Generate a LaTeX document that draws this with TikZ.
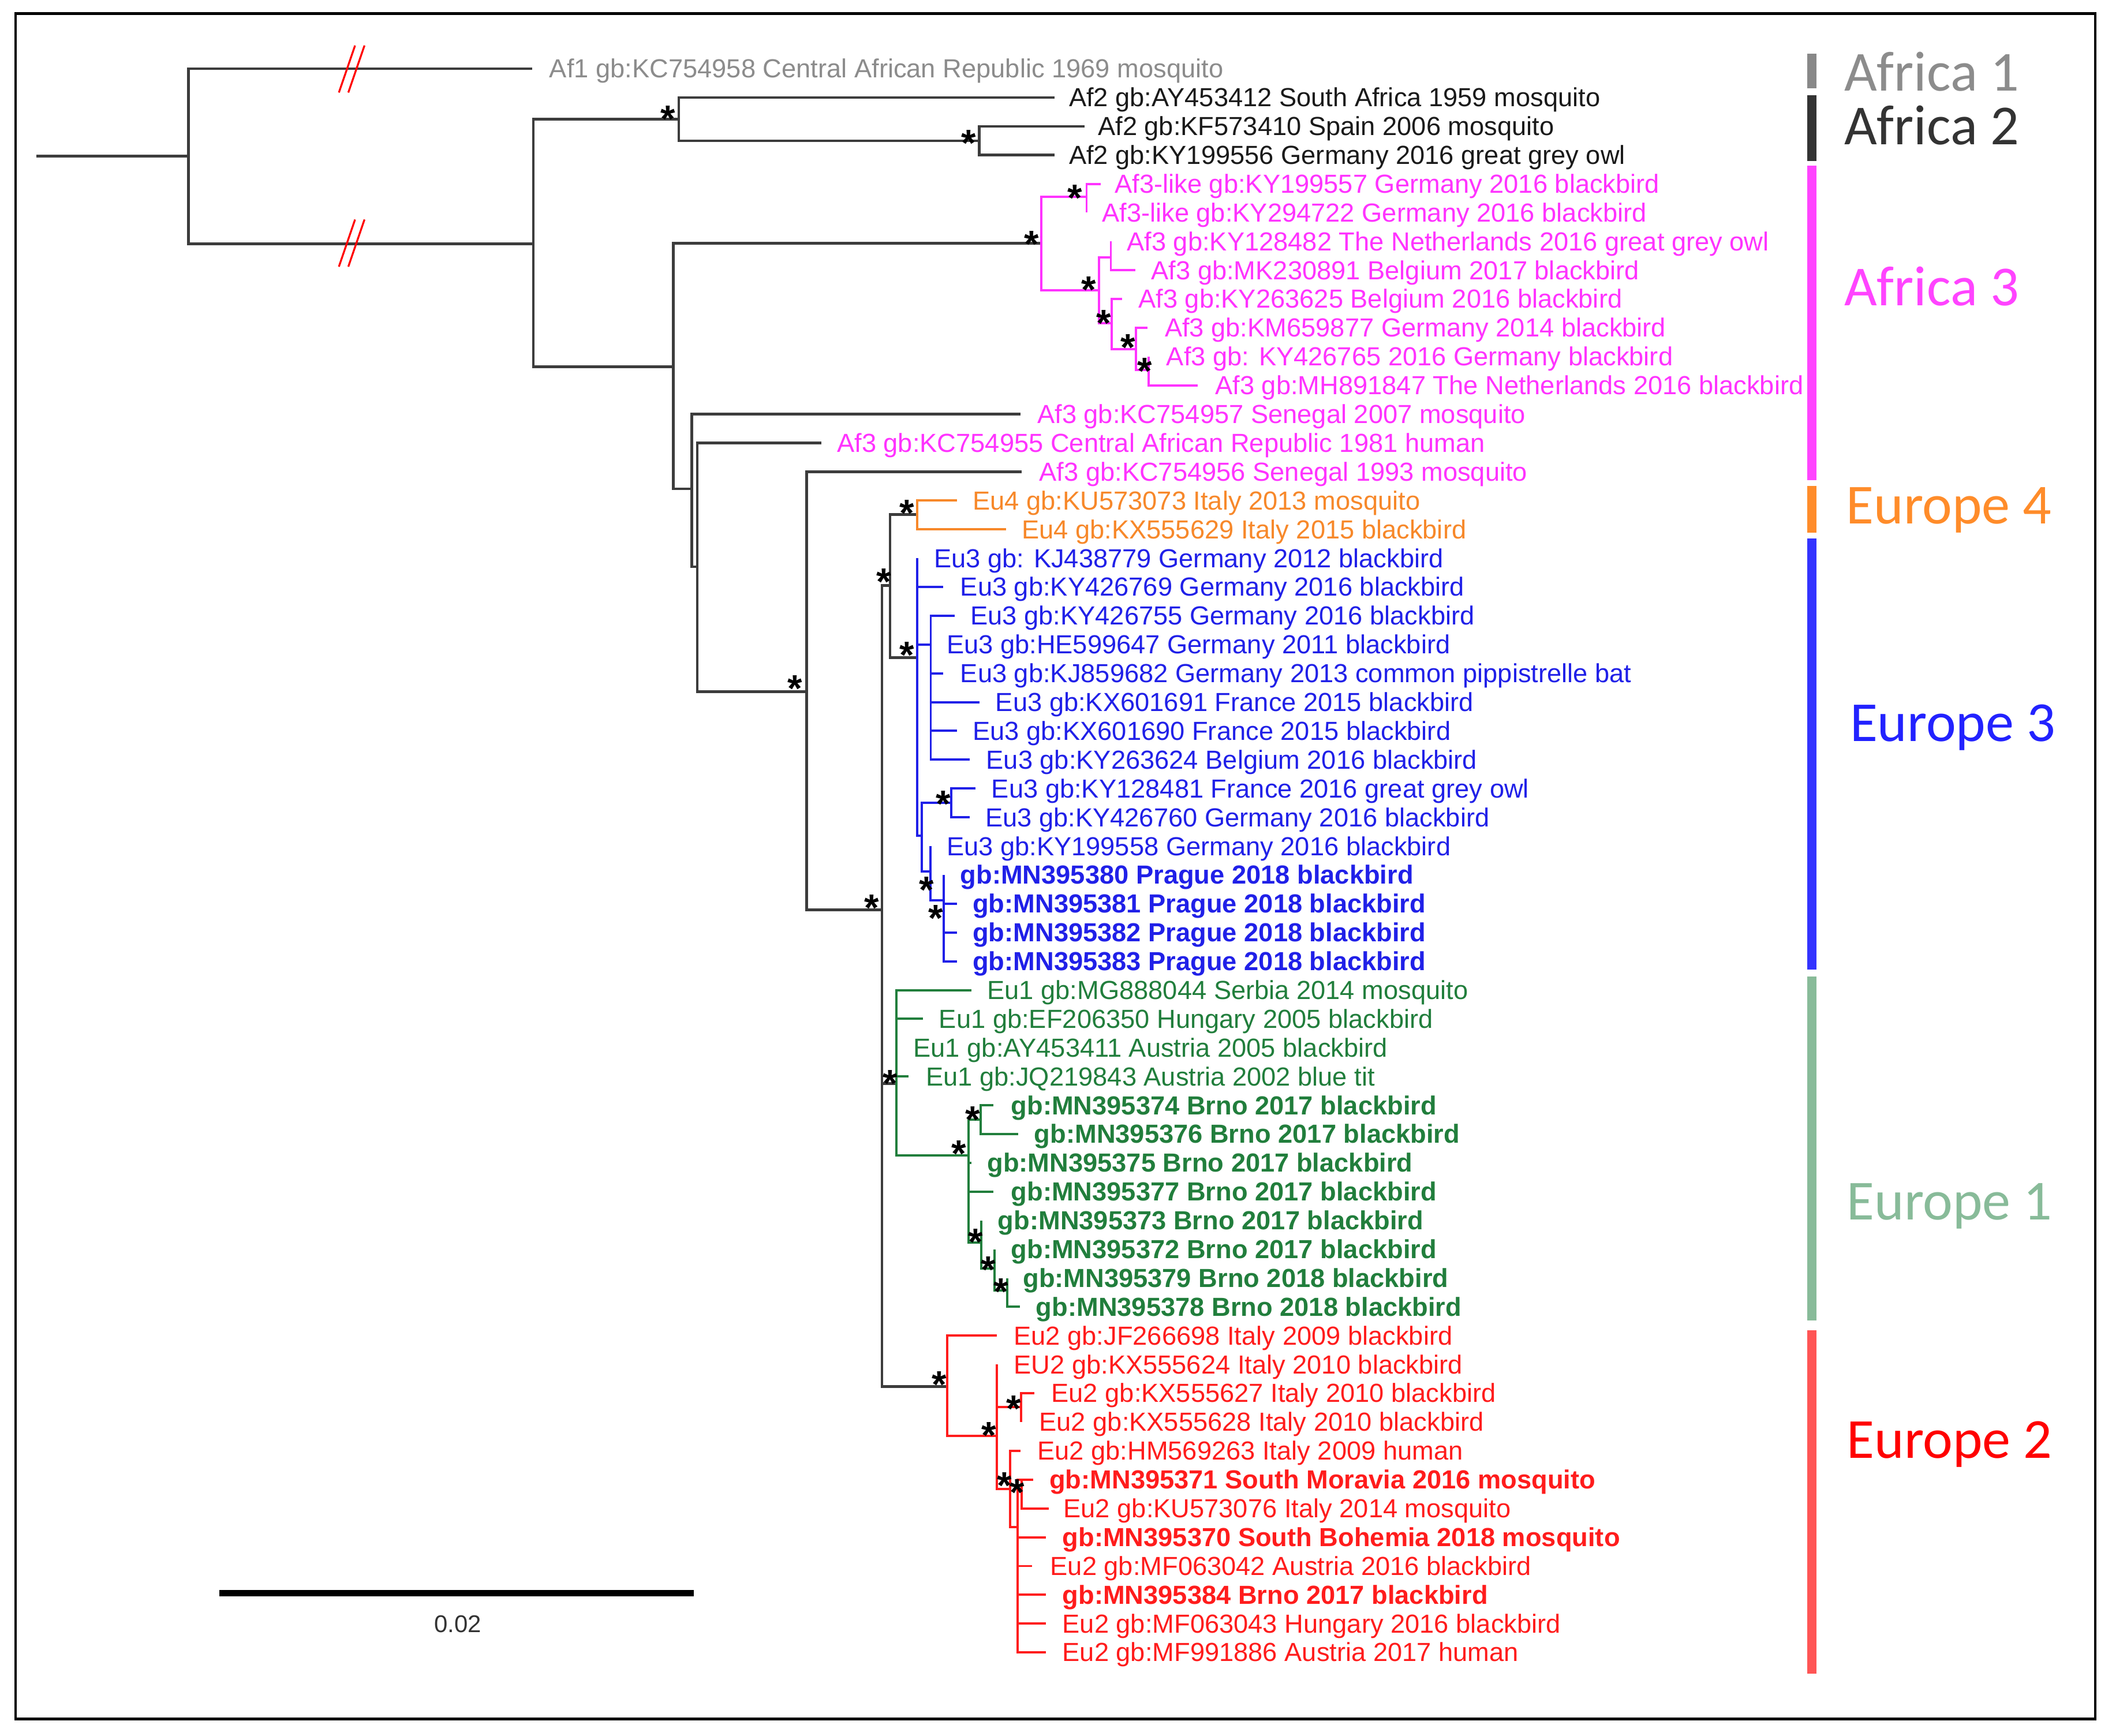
\documentclass[tikz,border=0pt]{standalone}
\usepackage{fontspec}
\setmainfont{Liberation Sans}
\newfontfamily\cladefont{Carlito}
\definecolor{treeline}{HTML}{3C3C3C}
\definecolor{cgrey}{HTML}{8C8C8C}
\definecolor{caf2}{HTML}{1A1A1A}
\definecolor{cmag}{HTML}{FF33FF}
\definecolor{corange}{HTML}{F7882A}
\definecolor{cblue}{HTML}{2020E8}
\definecolor{cgreen}{HTML}{217E3C}
\definecolor{cred}{HTML}{FF1C1C}
\definecolor{barAa}{HTML}{888888}
\definecolor{barAb}{HTML}{333333}
\definecolor{barAc}{HTML}{FF44FF}
\definecolor{barEd}{HTML}{FF8C2A}
\definecolor{barEc}{HTML}{3333FF}
\definecolor{barEa}{HTML}{88BB99}
\definecolor{barEb}{HTML}{FF5555}
\definecolor{labEc}{HTML}{2222FF}
\definecolor{labEb}{HTML}{FF0000}
\newcommand\mkleaf[6]{%
  \coordinate (#1) at (#2,#4);
  \node[lab,#5] (#1L) at (#3,#4+6.8) {#6};}
\newcommand\mkstar[3]{\node[bstar] (#1) at (#2,#3+15.8) {*};}
\begin{document}
\begin{tikzpicture}[x=1pt,y=-1pt,
  bk/.style={draw=treeline, line width=2pt},
  mg/.style={draw=cmag, line width=1.7pt},
  og/.style={draw=corange, line width=1.7pt},
  bl/.style={draw=cblue, line width=1.7pt},
  gr/.style={draw=cgreen, line width=1.7pt},
  rd/.style={draw=cred, line width=1.7pt},
  brk/.style={draw=red, line width=1.4pt},
  lab/.style={anchor=base west, inner sep=0pt, font=\fontsize{19.4}{19.4}\selectfont},
  bstar/.style={anchor=base, inner sep=0pt, font=\bfseries\fontsize{28}{28}\selectfont},
  clade/.style={anchor=base west, inner sep=0pt, font=\cladefont\fontsize{42}{42}\selectfont}
]
\useasboundingbox (0,0) rectangle (1568,1288.6);
\fill[white] (0,0) rectangle (1568,1288.6);
\draw[line width=2pt] (11.5,10) rectangle (1555.5,1276.5);

% ---------------- leaves ----------------
\mkleaf{af1}{395}{407.7}{51.0}{text=cgrey}{Af1 gb:KC754958 Central African Republic 1969 mosquito}
\mkleaf{t1}{783}{793.5}{72.4}{text=caf2}{Af2 gb:AY453412 South Africa 1959 mosquito}
\mkleaf{t2}{805}{815}{93.8}{text=caf2}{Af2 gb:KF573410 Spain 2006 mosquito}
\mkleaf{t3}{783}{793.5}{115.1}{text=caf2}{Af2 gb:KY199556 Germany 2016 great grey owl}
\mkleaf{t4}{817}{827.5}{136.5}{text=cmag}{Af3-like gb:KY199557 Germany 2016 blackbird}
\mkleaf{t5}{806.7}{818}{157.9}{text=cmag}{Af3-like gb:KY294722 Germany 2016 blackbird}
\mkleaf{t6}{824.7}{836.5}{179.3}{text=cmag}{Af3 gb:KY128482 The Netherlands 2016 great grey owl}
\mkleaf{t7}{843}{854.5}{200.7}{text=cmag}{Af3 gb:MK230891 Belgium 2017 blackbird}
\mkleaf{t8}{833.1}{845}{222.0}{text=cmag}{Af3 gb:KY263625 Belgium 2016 blackbird}
\mkleaf{t9}{851.7}{864.6}{243.4}{text=cmag}{Af3 gb:KM659877 Germany 2014 blackbird}
\mkleaf{t10}{852.8}{865.8}{264.8}{text=cmag}{Af3 gb: KY426765 2016 Germany blackbird}
\mkleaf{t11}{889.4}{902}{286.2}{text=cmag}{Af3 gb:MH891847 The Netherlands 2016 blackbird}
\mkleaf{t12}{757.8}{770}{307.6}{text=cmag}{Af3 gb:KC754957 Senegal 2007 mosquito}
\mkleaf{t13}{609.7}{621.3}{328.9}{text=cmag}{Af3 gb:KC754955 Central African Republic 1981 human}
\mkleaf{t14}{758.4}{771.4}{350.3}{text=cmag}{Af3 gb:KC754956 Senegal 1993 mosquito}
\mkleaf{t15}{710.5}{722}{371.7}{text=corange}{Eu4 gb:KU573073 Italy 2013 mosquito}
\mkleaf{t16}{746.8}{758.4}{393.1}{text=corange}{Eu4 gb:KX555629 Italy 2015 blackbird}
\mkleaf{t17}{680.8}{693.3}{414.5}{text=cblue}{Eu3 gb: KJ438779 Germany 2012 blackbird}
\mkleaf{t18}{700.3}{712.8}{435.8}{text=cblue}{Eu3 gb:KY426769 Germany 2016 blackbird}
\mkleaf{t19}{708.7}{720.3}{457.2}{text=cblue}{Eu3 gb:KY426755 Germany 2016 blackbird}
\mkleaf{t20}{691}{702.6}{478.6}{text=cblue}{Eu3 gb:HE599647 Germany 2011 blackbird}
\mkleaf{t21}{700.3}{712.8}{500.0}{text=cblue}{Eu3 gb:KJ859682 Germany 2013 common pippistrelle bat}
\mkleaf{t22}{727.3}{739}{521.4}{text=cblue}{Eu3 gb:KX601691 France 2015 blackbird}
\mkleaf{t23}{710.3}{722}{542.7}{text=cblue}{Eu3 gb:KX601690 France 2015 blackbird}
\mkleaf{t24}{719.8}{732}{564.1}{text=cblue}{Eu3 gb:KY263624 Belgium 2016 blackbird}
\mkleaf{t25}{724.4}{736}{585.5}{text=cblue}{Eu3 gb:KY128481 France 2016 great grey owl}
\mkleaf{t26}{719.8}{731.4}{606.9}{text=cblue}{Eu3 gb:KY426760 Germany 2016 blackbird}
\mkleaf{t27}{690.7}{702.6}{628.3}{text=cblue}{Eu3 gb:KY199558 Germany 2016 blackbird}
\mkleaf{t28}{700.7}{712.8}{649.6}{text=cblue}{\bfseries gb:MN395380 Prague 2018 blackbird}
\mkleaf{t29}{710.5}{722}{671.0}{text=cblue}{\bfseries gb:MN395381 Prague 2018 blackbird}
\mkleaf{t30}{710.5}{722}{692.4}{text=cblue}{\bfseries gb:MN395382 Prague 2018 blackbird}
\mkleaf{t31}{710.5}{722}{713.8}{text=cblue}{\bfseries gb:MN395383 Prague 2018 blackbird}
\mkleaf{t32}{721.2}{732.8}{735.2}{text=cgreen}{Eu1 gb:MG888044 Serbia 2014 mosquito}
\mkleaf{t33}{685.4}{697}{756.5}{text=cgreen}{Eu1 gb:EF206350 Hungary 2005 blackbird}
\mkleaf{t34}{665.5}{678}{777.9}{text=cgreen}{Eu1 gb:AY453411 Austria 2005 blackbird}
\mkleaf{t35}{674.7}{687.3}{799.3}{text=cgreen}{Eu1 gb:JQ219843 Austria 2002 blue tit}
\mkleaf{t36}{737.5}{750.5}{820.7}{text=cgreen}{\bfseries gb:MN395374 Brno 2017 blackbird}
\mkleaf{t37}{756}{767.7}{842.1}{text=cgreen}{\bfseries gb:MN395376 Brno 2017 blackbird}
\mkleaf{t38}{721}{732.8}{863.4}{text=cgreen}{\bfseries gb:MN395375 Brno 2017 blackbird}
\mkleaf{t39}{737.5}{750.5}{884.8}{text=cgreen}{\bfseries gb:MN395377 Brno 2017 blackbird}
\mkleaf{t40}{728.5}{740.7}{906.2}{text=cgreen}{\bfseries gb:MN395373 Brno 2017 blackbird}
\mkleaf{t41}{738.4}{750.5}{927.6}{text=cgreen}{\bfseries gb:MN395372 Brno 2017 blackbird}
\mkleaf{t42}{747.7}{759.3}{949.0}{text=cgreen}{\bfseries gb:MN395379 Brno 2018 blackbird}
\mkleaf{t43}{757}{769}{970.3}{text=cgreen}{\bfseries gb:MN395378 Brno 2018 blackbird}
\mkleaf{t44}{740.2}{752.5}{991.7}{text=cred}{Eu2 gb:JF266698 Italy 2009 blackbird}
\mkleaf{t45}{740}{752.5}{1013.1}{text=cred}{EU2 gb:KX555624 Italy 2010 blackbird}
\mkleaf{t46}{768}{780.4}{1034.5}{text=cred}{Eu2 gb:KX555627 Italy 2010 blackbird}
\mkleaf{t47}{757.9}{771.4}{1055.9}{text=cred}{Eu2 gb:KX555628 Italy 2010 blackbird}
\mkleaf{t48}{757.8}{770}{1077.2}{text=cred}{Eu2 gb:HM569263 Italy 2009 human}
\mkleaf{t49}{767}{779}{1098.6}{text=cred}{\bfseries gb:MN395371 South Moravia 2016 mosquito}
\mkleaf{t50}{778.5}{789.4}{1120.0}{text=cred}{Eu2 gb:KU573076 Italy 2014 mosquito}
\mkleaf{t51}{776.3}{788.6}{1141.4}{text=cred}{\bfseries gb:MN395370 South Bohemia 2018 mosquito}
\mkleaf{t52}{766}{779.6}{1162.8}{text=cred}{Eu2 gb:MF063042 Austria 2016 blackbird}
\mkleaf{t53}{776.3}{788.6}{1184.1}{text=cred}{\bfseries gb:MN395384 Brno 2017 blackbird}
\mkleaf{t54}{776.3}{788.6}{1205.5}{text=cred}{Eu2 gb:MF063043 Hungary 2016 blackbird}
\mkleaf{t55}{776.3}{788.6}{1226.9}{text=cred}{Eu2 gb:MF991886 Austria 2017 human}

% ---------------- internal nodes ----------------
\coordinate (root) at (27,115.8);
\coordinate (R) at (140,115.8);
\coordinate (B1) at (396,181);
\coordinate (A2) at (504,88.6);
\coordinate (A2b) at (727,104.5);
\coordinate (B2) at (500,272.2);
\coordinate (C1) at (773,180.5);
\coordinate (C2) at (806.7,146);
\coordinate (C3) at (816,215.5);
\coordinate (C4) at (824.7,191);
\coordinate (C5) at (825.2,240);
\coordinate (C6) at (843.3,259.2);
\coordinate (C7) at (852.8,274.6);
\coordinate (D1) at (513.7,363);
\coordinate (D2) at (517.7,420.8);
\coordinate (D3) at (599,513.5);
\coordinate (X) at (654.8,675.6);
\coordinate (Y) at (660.8,434.8);
\coordinate (E4) at (680.8,381.9);
\coordinate (E3) at (680.8,488.2);
\coordinate (E3a) at (691,478.6);
\coordinate (E3b) at (684.2,620.5);
\coordinate (E3c) at (706.3,596);
\coordinate (E3d) at (690.7,647);
\coordinate (E3e) at (700.7,668.5);
\coordinate (G1) at (665.5,804.6);
\coordinate (G2) at (718.9,858.1);
\coordinate (G3) at (728.2,831.2);
\coordinate (G4) at (728.5,922.6);
\coordinate (G5) at (738.4,942);
\coordinate (G6) at (747.7,958);
\coordinate (H1) at (703.3,1029.4);
\coordinate (H2) at (740,1066.2);
\coordinate (H3) at (757.9,1044.9);
\coordinate (H4) at (750,1105.6);
\coordinate (H6) at (755.6,1134);
\coordinate (H5) at (758.5,1098.6);

% ---------------- branches ----------------
\draw[bk] (root) -- (R);
\foreach \a/\b in {R/af1,R/B1,B1/A2,B1/B2,A2/t1,A2/A2b,A2b/t2,A2b/t3,B2/C1,B2/D1,D1/t12,D1/D2,D2/t13,D2/D3,D3/t14,D3/X,X/Y,X/G1,X/H1,Y/E4,Y/E3}
  \draw[bk] (\a) |- (\b);
\foreach \a/\b in {C1/C2,C1/C3,C2/t4,C2/t5,C3/C4,C3/C5,C4/t6,C4/t7,C5/t8,C5/C6,C6/t9,C6/C7,C7/t10,C7/t11}
  \draw[mg] (\a) |- (\b);
\foreach \a/\b in {E4/t15,E4/t16}
  \draw[og] (\a) |- (\b);
\foreach \a/\b in {E3/t17,E3/t18,E3/E3a,E3/E3b,E3a/t19,E3a/t20,E3a/t21,E3a/t22,E3a/t23,E3a/t24,E3b/E3c,E3b/E3d,E3c/t25,E3c/t26,E3d/t27,E3d/E3e,E3e/t28,E3e/t29,E3e/t30,E3e/t31}
  \draw[bl] (\a) |- (\b);
\foreach \a/\b in {G1/t32,G1/t33,G1/t34,G1/t35,G1/G2,G2/G3,G2/t38,G2/t39,G2/G4,G3/t36,G3/t37,G4/t40,G4/G5,G5/t41,G5/G6,G6/t42,G6/t43}
  \draw[gr] (\a) |- (\b);
\foreach \a/\b in {H1/t44,H1/H2,H2/t45,H2/H3,H2/H4,H3/t46,H3/t47,H4/t48,H4/H6,H6/H5,H5/t49,H5/t50,H6/t51,H6/t52,H6/t53,H6/t54,H6/t55}
  \draw[rd] (\a) |- (\b);

% ---------------- break marks ----------------
\draw[brk] (251.6,68.7) -- (263.6,33.8);
\draw[brk] (258.6,68.7) -- (270.6,33.8);
\draw[brk] (251.6,198) -- (263.6,163);
\draw[brk] (258.6,198) -- (270.6,163);

% ---------------- support stars ----------------
\mkstar{s1}{496}{82}
\mkstar{s2}{719}{100}
\mkstar{s3}{766}{175}
\mkstar{s4}{798}{141}
\mkstar{s5}{808.4}{209}
\mkstar{s6}{819.6}{233.6}
\mkstar{s7}{837.6}{252}
\mkstar{s8}{850}{269.5}
\mkstar{s9}{590}{505}
\mkstar{s10}{647}{668}
\mkstar{s11}{656}{426}
\mkstar{s12}{673.3}{375}
\mkstar{s13}{673.3}{480.3}
\mkstar{s14}{700.4}{590.6}
\mkstar{s15}{687.8}{654.8}
\mkstar{s16}{694.7}{675.6}
\mkstar{s17}{660.8}{798}
\mkstar{s18}{712}{850.5}
\mkstar{s19}{722.1}{825.3}
\mkstar{s20}{724.5}{916}
\mkstar{s21}{733.7}{936.8}
\mkstar{s22}{743}{953}
\mkstar{s23}{697.2}{1021.7}
\mkstar{s24}{734}{1059.4}
\mkstar{s25}{752.5}{1039.7}
\mkstar{s26}{745.7}{1097}
\mkstar{s27}{755}{1102}

% ---------------- clade bars ----------------
\fill[barAa] (1341.8,39.8) rectangle (1348.6,65.6);
\fill[barAb] (1341.8,70.5) rectangle (1348.6,119.7);
\fill[barAc] (1341.8,123) rectangle (1348.6,356.7);
\fill[barEd] (1341.8,360.8) rectangle (1348.6,395.6);
\fill[barEc] (1341.8,399.7) rectangle (1348.6,719.8);
\fill[barEa] (1341.8,725.2) rectangle (1348.6,980.6);
\fill[barEb] (1341.8,987.6) rectangle (1348.6,1242.9);

\node[clade,text=cgrey] (lA1) at (1369,67.6) {Africa 1};
\node[clade,text=barAb] (lA2) at (1369,107.2) {Africa 2};
\node[clade,text=barAc] (lA3) at (1369,226.7) {Africa 3};
\node[clade,text=barEd] (lE4) at (1370.6,388.7) {Europe 4};
\node[clade,text=labEc] (lE3) at (1373.3,550.6) {Europe 3};
\node[clade,text=barEa] (lE1) at (1371,905.6) {Europe 1};
\node[clade,text=labEb] (lE2) at (1371,1082.7) {Europe 2};

% ---------------- scale bar ----------------
\coordinate (sbA) at (163,1183);
\coordinate (sbB) at (515,1183);
\draw[line width=4.5pt] (sbA) -- (sbB);
\node[inner sep=0pt, text=barAb, font=\fontsize{18}{18}\selectfont] (sbL) at (340,1206) {0.02};
\end{tikzpicture}
\end{document}
